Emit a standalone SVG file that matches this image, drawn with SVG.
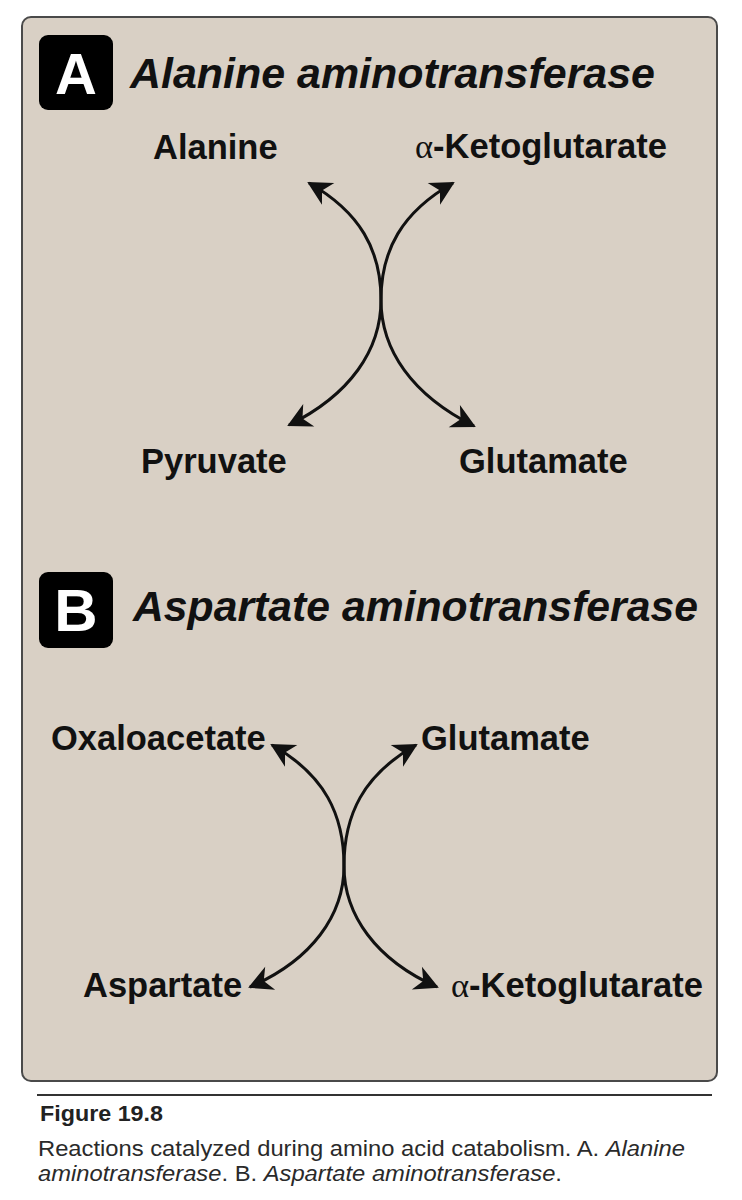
<svg xmlns="http://www.w3.org/2000/svg" width="742" height="1200" viewBox="0 0 742 1200">
<style>
.panel{fill:#d9d0c5;stroke:#4a4a4a;stroke-width:2}
.badge{fill:#000}
.badgeTxt{font-family:"Liberation Sans",Arial,sans-serif;font-weight:bold;fill:#fff;text-anchor:middle}
.title{font-family:"Liberation Sans",Arial,sans-serif;font-weight:bold;font-style:italic;font-size:42px;fill:#111}
.lbl{font-family:"Liberation Sans",Arial,sans-serif;font-weight:bold;font-size:34.5px;fill:#111}
.greek{font-family:"Liberation Serif","Times New Roman",serif;font-weight:normal}
.arc{fill:none;stroke:#111;stroke-width:3}
.fig{font-family:"Liberation Sans",Arial,sans-serif;font-weight:bold;font-size:22px;fill:#222}
.cap{font-family:"Liberation Sans",Arial,sans-serif;font-size:22px;fill:#2a2a2a}
.it{font-style:italic}
</style>
<defs>
<marker id="ah" viewBox="-28 -15 32 30" markerWidth="32" markerHeight="30" refX="-2" refY="0" markerUnits="userSpaceOnUse" orient="auto-start-reverse">
<path d="M0,0 L-24,-12.5 L-17,0 L-24,12.5 Z" fill="#111"/>
</marker>
</defs>

<g id="panel">
<rect class="panel" x="22" y="17" width="695" height="1064" rx="9" ry="9"/>
</g>

<g id="sectionA">
<rect class="badge" x="39" y="35" width="74" height="75" rx="9" ry="9"/>
<text class="badgeTxt" x="76" y="94" font-size="58">A</text>
<text class="title" x="130" y="88" textLength="525" lengthAdjust="spacingAndGlyphs">Alanine aminotransferase</text>
</g>

<g id="node-alanine"><text class="lbl" x="153" y="159">Alanine</text></g>
<g id="node-akg-a"><text class="lbl" x="415" y="158"><tspan class="greek">α</tspan>-Ketoglutarate</text></g>
<g id="node-pyruvate"><text class="lbl" x="141" y="473">Pyruvate</text></g>
<g id="node-glutamate-a"><text class="lbl" x="459" y="473">Glutamate</text></g>

<g id="sectionB">
<rect class="badge" x="39" y="572" width="74" height="76" rx="9" ry="9"/>
<text class="badgeTxt" x="76" y="631" font-size="60">B</text>
<text class="title" x="133" y="621" textLength="565" lengthAdjust="spacingAndGlyphs">Aspartate aminotransferase</text>
</g>

<g id="node-oxaloacetate"><text class="lbl" x="51" y="750">Oxaloacetate</text></g>
<g id="node-glutamate-b"><text class="lbl" x="421" y="750">Glutamate</text></g>
<g id="node-aspartate"><text class="lbl" x="83" y="997">Aspartate</text></g>
<g id="node-akg-b"><text class="lbl" x="451" y="997"><tspan class="greek">α</tspan>-Ketoglutarate</text></g>

<g id="connectors">
<path class="arc" marker-start="url(#ah)" marker-end="url(#ah)" d="M309,183 C360,212 381,250 381,300 C381,350 350,395 289,425"/>
<path class="arc" marker-start="url(#ah)" marker-end="url(#ah)" d="M453,183 C402,212 381,250 381,300 C381,350 412,395 474,426"/>
<path class="arc" marker-start="url(#ah)" marker-end="url(#ah)" d="M272,745 C325,775 344,815 344,866 C344,915 312,960 250,987"/>
<path class="arc" marker-start="url(#ah)" marker-end="url(#ah)" d="M416,745 C363,775 344,815 344,866 C344,915 376,960 437,987"/>
</g>

<g id="caption">
<line x1="37" y1="1095" x2="712" y2="1095" stroke="#333" stroke-width="2"/>
<text class="fig" x="40" y="1121" textLength="123" lengthAdjust="spacingAndGlyphs">Figure 19.8</text>
<text class="cap" x="38" y="1156" textLength="647" lengthAdjust="spacingAndGlyphs">Reactions catalyzed during amino acid catabolism. A. <tspan class="it">Alanine</tspan></text>
<text class="cap" x="38" y="1181" textLength="524" lengthAdjust="spacingAndGlyphs"><tspan class="it">aminotransferase</tspan>. B. <tspan class="it">Aspartate aminotransferase</tspan>.</text>
</g>
</svg>
